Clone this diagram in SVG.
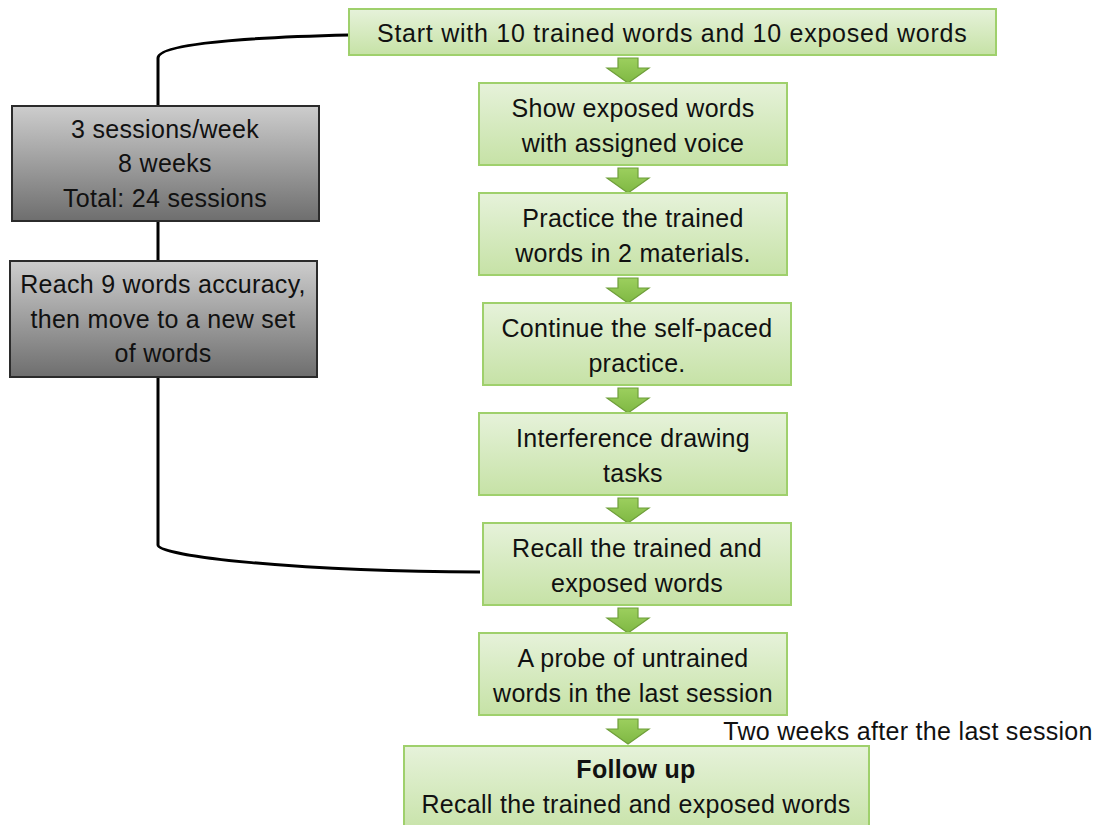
<svg xmlns="http://www.w3.org/2000/svg" width="1097" height="825" viewBox="0 0 1097 825">
<defs>
<linearGradient id="gGreen" x1="0" y1="0" x2="0" y2="1">
<stop offset="0" stop-color="#e6f2da"/>
<stop offset="1" stop-color="#c6e2a6"/>
</linearGradient>
<linearGradient id="gGray" x1="0" y1="0" x2="0" y2="1">
<stop offset="0" stop-color="#cdcdcd"/>
<stop offset="1" stop-color="#6e6e6e"/>
</linearGradient>
<linearGradient id="gArrow" x1="0" y1="0" x2="0" y2="1">
<stop offset="0" stop-color="#9ccf5e"/>
<stop offset="1" stop-color="#7fb843"/>
</linearGradient>
<path id="arr" d="M-10,0 H10 V10 H21 L0,25 L-21,10 H-10 Z"/>
</defs>
<style>
.g{fill:url(#gGreen);stroke:#9fd06c;stroke-width:2}
.k{fill:url(#gGray);stroke:#2b2b2b;stroke-width:2}
.t{font-family:"Liberation Sans",Arial,sans-serif;font-size:25px;letter-spacing:0.3px;fill:#111;text-anchor:middle}
.b{font-weight:bold}
.a{fill:url(#gArrow);stroke:#6f9f3a;stroke-width:1.2}
.c{fill:none;stroke:#000;stroke-width:3}
</style>
<rect width="1097" height="825" fill="#fff"/>
<g id="connectors">
<path class="c" d="M349,35 C220,38 158,46 158,58 L158,545 C158,556 300,572 480,572"/>
<use href="#arr" class="a" x="628" y="58"/>
<use href="#arr" class="a" x="628" y="168"/>
<use href="#arr" class="a" x="628" y="278"/>
<use href="#arr" class="a" x="628" y="388"/>
<use href="#arr" class="a" x="628" y="498"/>
<use href="#arr" class="a" x="628" y="608"/>
<use href="#arr" class="a" x="628" y="719"/>
</g>
<g id="start">
<rect class="g" x="349" y="9" width="647" height="46"/>
<text class="t" x="672" y="42" textLength="590" lengthAdjust="spacing">Start with 10 trained words and 10 exposed words</text>
</g>
<g id="show">
<rect class="g" x="479" y="83" width="308" height="82"/>
<text class="t" x="633" y="117">Show exposed words</text>
<text class="t" x="633" y="152">with assigned voice</text>
</g>
<g id="practice">
<rect class="g" x="479" y="193" width="308" height="82"/>
<text class="t" x="633" y="227">Practice the trained</text>
<text class="t" x="633" y="262">words in 2 materials.</text>
</g>
<g id="continue">
<rect class="g" x="483" y="303" width="308" height="82"/>
<text class="t" x="637" y="337">Continue the self-paced</text>
<text class="t" x="637" y="372">practice.</text>
</g>
<g id="interference">
<rect class="g" x="479" y="413" width="308" height="82"/>
<text class="t" x="633" y="447">Interference drawing</text>
<text class="t" x="633" y="482">tasks</text>
</g>
<g id="recall">
<rect class="g" x="483" y="523" width="308" height="82"/>
<text class="t" x="637" y="557">Recall the trained and</text>
<text class="t" x="637" y="592">exposed words</text>
</g>
<g id="probe">
<rect class="g" x="479" y="633" width="308" height="82"/>
<text class="t" x="633" y="667">A probe of untrained</text>
<text class="t" x="633" y="702">words in the last session</text>
</g>
<g id="followup">
<rect class="g" x="404" y="746" width="465" height="90"/>
<text class="t b" x="636" y="778">Follow up</text>
<text class="t" x="636" y="813">Recall the trained and exposed words</text>
</g>
<g id="sessions">
<rect class="k" x="12" y="106" width="307" height="115"/>
<text class="t" x="165" y="138">3 sessions/week</text>
<text class="t" x="165" y="172">8 weeks</text>
<text class="t" x="165" y="207">Total: 24 sessions</text>
</g>
<g id="reach">
<rect class="k" x="10" y="261" width="307" height="116"/>
<text class="t" x="163" y="293">Reach 9 words accuracy,</text>
<text class="t" x="163" y="328">then move to a new set</text>
<text class="t" x="163" y="362">of words</text>
</g>
<g id="note">
<text class="t" x="908" y="740">Two weeks after the last session</text>
</g>
</svg>
